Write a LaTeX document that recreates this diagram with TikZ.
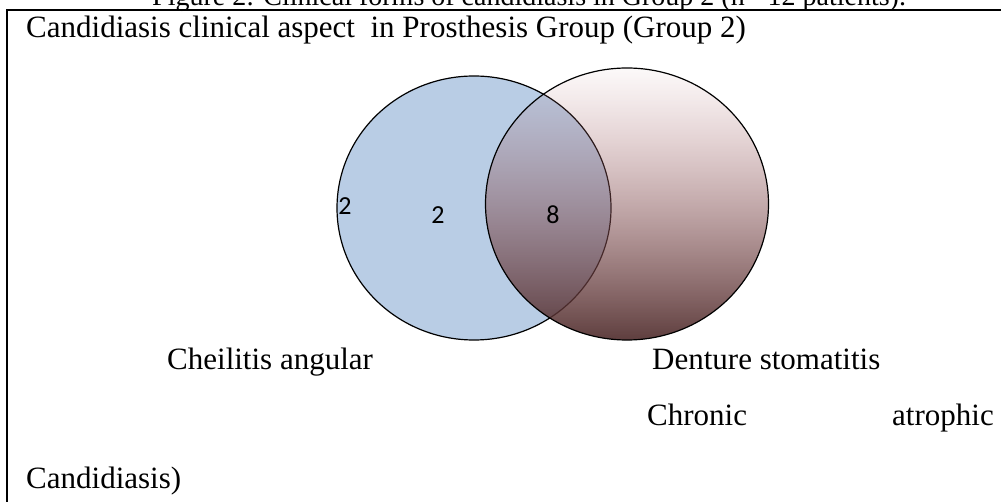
\documentclass[tikz,border=0pt]{standalone}
\usepackage{fontspec}
\setmainfont{Liberation Serif}
\newfontfamily\countfont{Carlito}
\usetikzlibrary{fadings}
\definecolor{cheilbg}{HTML}{B9CDE5}
\definecolor{denturetop}{RGB}{180,110,115}
\definecolor{denturemid}{RGB}{170,100,105}
\definecolor{denturebot}{RGB}{80,45,45}
\definecolor{ctextdark}{HTML}{000000}
\tikzfading[name=denturefade,
    top color=transparent!96,
    middle color=transparent!55,
    bottom color=transparent!8]

\begin{document}
\begin{tikzpicture}[
    x=1pt, y=-1pt,
    lbl/.style={anchor=base west, inner sep=0pt, text=ctextdark,
        font=\fontsize{31}{36}\selectfont},
    caption/.style={anchor=base west, inner sep=0pt, text=ctextdark,
        font=\fontsize{28}{32}\selectfont},
    count/.style={inner sep=0pt, text=ctextdark,
        font=\countfont\fontsize{26}{30}\selectfont},
    frameline/.style={line width=1.6pt, black},
    vennline/.style={line width=1.2pt, black},
]
\useasboundingbox (0,0) rectangle (1001,502);

% ============================================================
% FRAME and CAPTION
% ============================================================
\coordinate (fnw) at (7,10);
\coordinate (fne) at (1001,10);
\coordinate (fsw) at (7,502);
\draw[frameline] (fne) -- (fnw) -- (fsw);

\node[caption] (figcap) at (152,6)
    {Figure 2: Clinical forms of candidiasis in Group 2 (n= 12 patients).};
\node[lbl] (title) at (26,38)
    {Candidiasis clinical aspect \ in Prosthesis Group (Group 2)};

% ============================================================
% VENN: Cheilitis angular (left), Denture stomatitis (right)
% ============================================================
\coordinate (cheilc) at (474,208);
\coordinate (dentc) at (627,204);

\fill[cheilbg] (cheilc) ellipse (137 and 132);
\draw[vennline] (cheilc) ellipse (137 and 132);

\shade[top color=denturetop, middle color=denturemid, bottom color=denturebot,
    path fading=denturefade] (dentc) ellipse (141.5 and 136);
\draw[vennline] (dentc) ellipse (141.5 and 136);

% counts
\node[count] (cnt_edge) at (345,206) {2};
\node[count] (cnt_cheil) at (438,215) {2};
\node[count] (cnt_both) at (553,215) {8};

% ============================================================
% LABELS
% ============================================================
\node[lbl] (l_cheil) at (167,370) {Cheilitis angular};
\node[lbl] (l_dent) at (652,370) {Denture stomatitis};
\node[lbl] (l_chron) at (647,425) {Chronic};
\node[lbl] (l_atro) at (892,425) {atrophic};
\node[lbl] (l_cand) at (26,488) {Candidiasis)};

\end{tikzpicture}
\end{document}
